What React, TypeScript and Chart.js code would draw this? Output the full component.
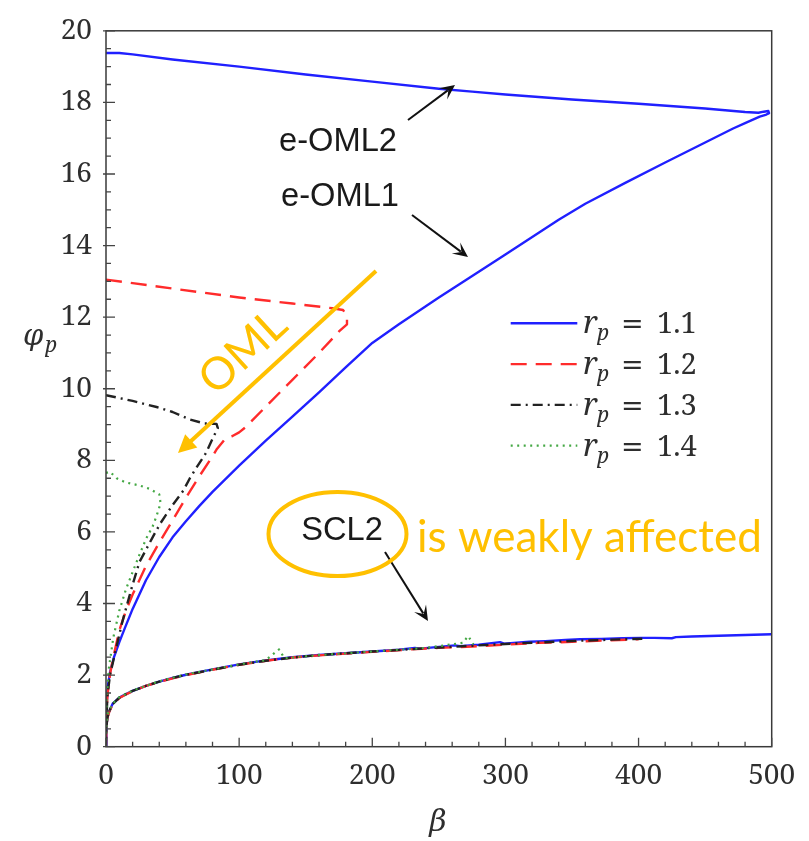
import React, { useEffect, useRef } from "react";
import { Chart, registerables } from "chart.js";

Chart.register(...registerables);

// ---------- axis ticks ----------
const xTickValues = [0, 100, 200, 300, 400, 500];
const yTickValues = [0, 2, 4, 6, 8, 10, 12, 14, 16, 18, 20];
const xMinorStep = 20;
const yMinorStep = 0.5;

// ---------- legend labels ----------
const seriesNames = ["1.1", "1.2", "1.3", "1.4"];

// ---------- r_p = 1.1 ----------
const rp11OmlBeta = [0, 10, 20, 50, 100, 150, 200, 250, 275, 300, 350, 400, 450, 480, 490, 494, 497.5, 498, 496, 491, 480, 471, 450, 420, 390, 360, 340, 300, 273, 250, 220, 200, 180, 160, 140, 120, 100, 80, 70, 60, 50, 40, 30, 20, 14, 10, 6, 3, 1.5, 0.5, 0];
const rp11OmlPhi = [19.38, 19.38, 19.34, 19.2, 19.0, 18.78, 18.58, 18.38, 18.3, 18.22, 18.08, 17.96, 17.83, 17.73, 17.71, 17.74, 17.76, 17.7, 17.66, 17.6, 17.42, 17.27, 16.88, 16.32, 15.75, 15.17, 14.72, 13.75, 13.1, 12.55, 11.8, 11.28, 10.6, 9.9, 9.22, 8.55, 7.85, 7.12, 6.72, 6.3, 5.85, 5.3, 4.65, 3.85, 3.3, 2.92, 2.5, 2.08, 1.72, 1.2, 0.4];
const rp11SclBeta = [0, 0.3, 1, 2.5, 5, 10, 15, 20, 30, 40, 50, 60, 80, 100, 120, 140, 160, 180, 200, 220, 232, 236, 250, 262, 266, 280, 296, 299, 318, 330, 345, 356, 372, 388, 402, 412, 425, 428, 440, 460, 480, 500];
const rp11SclPhi = [0, 0.55, 0.82, 1.0, 1.2, 1.37, 1.47, 1.56, 1.7, 1.82, 1.92, 2.01, 2.16, 2.3, 2.41, 2.5, 2.56, 2.61, 2.66, 2.71, 2.76, 2.74, 2.79, 2.83, 2.81, 2.85, 2.92, 2.88, 2.93, 2.95, 2.98, 3.0, 3.01, 3.03, 3.04, 3.04, 3.03, 3.06, 3.08, 3.1, 3.12, 3.14];

// ---------- r_p = 1.2 ----------
const rp12OmlBeta = [0, 20, 50, 100, 140, 170, 178, 181, 181, 175, 160, 140, 120, 105, 100, 95, 90, 83, 78, 70, 60, 50, 40, 30, 20, 15, 10, 5.5, 3, 1, 0];
const rp12OmlPhi = [13.05, 12.95, 12.8, 12.55, 12.38, 12.25, 12.2, 12.05, 11.8, 11.6, 11.0, 10.25, 9.5, 8.93, 8.78, 8.68, 8.62, 8.3, 8.0, 7.55, 6.95, 6.32, 5.7, 5.05, 4.25, 3.8, 3.25, 2.5, 2.02, 1.4, 0.3];
const rp12SclBeta = [0, 0.3, 1, 2.5, 5, 10, 15, 20, 30, 40, 50, 60, 80, 100, 120, 140, 160, 180, 200, 225, 250, 275, 300, 325, 350, 375, 400];
const rp12SclPhi = [0, 0.5, 0.8, 0.98, 1.18, 1.36, 1.46, 1.55, 1.7, 1.81, 1.91, 2.0, 2.15, 2.29, 2.4, 2.49, 2.55, 2.6, 2.65, 2.71, 2.76, 2.8, 2.85, 2.9, 2.93, 2.97, 3.0];

// ---------- r_p = 1.3 ----------
const rp13OmlBeta = [0, 20, 38, 50, 63, 74, 83, 84, 80, 75, 68, 63, 58, 50, 41, 35, 25, 19, 12, 7, 3, 1, 0];
const rp13OmlPhi = [9.82, 9.66, 9.49, 9.35, 9.14, 9.03, 9.02, 8.9, 8.6, 8.2, 7.8, 7.5, 7.15, 6.75, 6.25, 5.85, 5.15, 4.4, 3.45, 2.65, 2.0, 1.4, 0.3];
const rp13SclBeta = [0, 0.3, 1, 2.5, 5, 10, 15, 20, 30, 40, 50, 60, 80, 100, 120, 140, 160, 180, 200, 215, 240, 260, 285, 310, 330, 355, 380, 405];
const rp13SclPhi = [0, 0.52, 0.81, 1.0, 1.19, 1.37, 1.47, 1.56, 1.7, 1.82, 1.92, 2.01, 2.15, 2.29, 2.4, 2.49, 2.56, 2.61, 2.66, 2.69, 2.75, 2.79, 2.84, 2.89, 2.92, 2.96, 2.99, 3.02];

// ---------- r_p = 1.4 ----------
const rp14OmlBeta = [0, 3, 8, 15, 25, 33, 40, 41, 38, 35, 30, 25, 20, 15, 10, 5.5, 2, 0.5, 0];
const rp14OmlPhi = [7.65, 7.68, 7.5, 7.38, 7.3, 7.2, 7.05, 6.8, 6.45, 6.15, 5.8, 5.35, 4.88, 4.4, 3.8, 3.05, 2.15, 1.3, 0.3];
const rp14SclBeta = [0, 0.3, 1, 2.5, 5, 10, 20, 40, 60, 80, 100, 120, 126, 130, 134, 160, 200, 240, 268, 272, 276];
const rp14SclPhi = [0, 0.55, 0.85, 1.02, 1.2, 1.38, 1.57, 1.83, 2.02, 2.16, 2.3, 2.42, 2.6, 2.72, 2.47, 2.56, 2.66, 2.76, 2.9, 3.09, 2.86];

function path(ob: number[], op: number[], sb: number[], sp: number[]) {
  const pts: { x: number; y: number | null }[] = [];
  ob.forEach((b, i) => pts.push({ x: b, y: op[i] }));
  pts.push({ x: 0, y: null });
  sb.forEach((b, i) => pts.push({ x: b, y: sp[i] }));
  return pts;
}

const SERIF = "'Noto Serif', 'DejaVu Serif', serif";
const GREEK = "'DejaVu Serif', serif";
const SANS = "'Liberation Sans', Arial, sans-serif";
const CALIBRI = "Lato, 'Open Sans', sans-serif";
const ORANGE = "#FFC000";
const TEXT = "#2e2e2e";

function stealthHead(ctx: CanvasRenderingContext2D, x0: number, y0: number, x1: number, y1: number, len: number, half: number) {
  const a = Math.atan2(y1 - y0, x1 - x0);
  ctx.save();
  ctx.translate(x1, y1);
  ctx.rotate(a);
  ctx.beginPath();
  ctx.moveTo(0, 0);
  ctx.lineTo(-len, -half);
  ctx.lineTo(-len * 0.55, 0);
  ctx.lineTo(-len, half);
  ctx.closePath();
  ctx.fill();
  ctx.restore();
}

function blackArrow(ctx: CanvasRenderingContext2D, x0: number, y0: number, x1: number, y1: number) {
  const a = Math.atan2(y1 - y0, x1 - x0);
  const len = 15;
  ctx.save();
  ctx.strokeStyle = "#111";
  ctx.fillStyle = "#111";
  ctx.lineWidth = 2;
  ctx.beginPath();
  ctx.moveTo(x0, y0);
  ctx.lineTo(x1 - Math.cos(a) * len * 0.6, y1 - Math.sin(a) * len * 0.6);
  ctx.stroke();
  stealthHead(ctx, x0, y0, x1, y1, len, 7);
  ctx.restore();
}

function fitSize(ctx: CanvasRenderingContext2D, text: string, family: string, width: number) {
  ctx.font = `40px ${family}`;
  return (40 * width) / ctx.measureText(text).width;
}

function drawText(ctx: CanvasRenderingContext2D, text: string, family: string, size: number, x: number, y: number, color: string, align: CanvasTextAlign = "center") {
  ctx.font = `${size.toFixed(2)}px ${family}`;
  ctx.fillStyle = color;
  ctx.textAlign = align;
  ctx.textBaseline = "middle";
  ctx.fillText(text, x, y);
}

const overlay = {
  id: "overlay",
  afterDatasetsDraw(chart: any) {
    const { ctx, chartArea: ca, scales } = chart;
    const xs = scales.x;
    const ys = scales.y;
    ctx.save();

    // frame
    ctx.strokeStyle = "#3a3a3a";
    ctx.lineWidth = 1.5;
    ctx.strokeRect(ca.left, ca.top, ca.right - ca.left, ca.bottom - ca.top);

    // inner ticks
    ctx.strokeStyle = "#444";
    ctx.lineWidth = 1.3;
    ctx.beginPath();
    for (let v = xs.min; v <= xs.max + 1e-9; v += xMinorStep) {
      const px = xs.getPixelForValue(v);
      const major = xTickValues.includes(v);
      ctx.moveTo(px, ca.bottom);
      ctx.lineTo(px, ca.bottom - (major ? 9 : 5));
    }
    for (let v = ys.min; v <= ys.max + 1e-9; v += yMinorStep) {
      const py = ys.getPixelForValue(v);
      const major = yTickValues.includes(v);
      ctx.moveTo(ca.left - (major ? 3 : 0), py);
      ctx.lineTo(ca.left + (major ? 9 : 5), py);
    }
    ctx.stroke();

    // axis titles
    ctx.fillStyle = TEXT;
    ctx.textBaseline = "alphabetic";
    ctx.textAlign = "center";
    ctx.font = `italic 30px ${GREEK}`;
    ctx.fillText("β", 438, 831);
    ctx.textAlign = "left";
    ctx.font = `italic 29px ${GREEK}`;
    ctx.fillText("φ", 23, 345);
    ctx.font = `italic 21px ${SERIF}`;
    ctx.fillText("p", 45, 352);

    // legend
    const datasets = chart.data.datasets;
    datasets.forEach((ds: any, i: number) => {
      const cy = 323.3 + i * 40.8;
      ctx.save();
      ctx.strokeStyle = ds.borderColor;
      ctx.lineWidth = ds.borderWidth;
      ctx.setLineDash(ds.borderDash || []);
      ctx.beginPath();
      ctx.moveTo(510.7, cy);
      ctx.lineTo(577.3, cy);
      ctx.stroke();
      ctx.restore();
      ctx.fillStyle = TEXT;
      ctx.textAlign = "left";
      ctx.textBaseline = "alphabetic";
      ctx.font = `italic 31px ${SERIF}`;
      ctx.fillText("r", 583, cy + 10);
      ctx.font = `italic 21px ${SERIF}`;
      ctx.fillText("p", 597, cy + 17);
      ctx.font = `27px 'DejaVu Serif', serif`;
      ctx.fillText("=", 621, cy + 10);
      ctx.font = `29px ${SERIF}`;
      ctx.fillText(seriesNames[i], 657, cy + 10);
    });

    // black annotations
    const sansSize = fitSize(ctx, "e-OML2", SANS, 118);
    drawText(ctx, "e-OML2", SANS, sansSize, 338, 142, "#1a1a1a");
    drawText(ctx, "e-OML1", SANS, sansSize, 340, 197, "#1a1a1a");
    drawText(ctx, "SCL2", SANS, sansSize, 342, 531, "#1a1a1a");
    blackArrow(ctx, 408, 120, 455, 85);
    blackArrow(ctx, 412, 215, 468, 257);
    blackArrow(ctx, 385, 552, 428, 621);

    // orange annotations
    ctx.strokeStyle = ORANGE;
    ctx.lineWidth = 4;
    ctx.beginPath();
    ctx.ellipse(337.5, 534, 69, 42, 0, 0, Math.PI * 2);
    ctx.stroke();
    const orangeSize = fitSize(ctx, "is weakly affected", CALIBRI, 345);
    drawText(ctx, "is weakly affected", CALIBRI, orangeSize, 417, 538, ORANGE, "left");

    // OML arrow
    const tx = 376, ty = 271, hx = 178, hy = 453;
    const a = Math.atan2(hy - ty, hx - tx);
    ctx.beginPath();
    ctx.moveTo(tx, ty);
    ctx.lineTo(hx - Math.cos(a) * 14, hy - Math.sin(a) * 14);
    ctx.stroke();
    ctx.fillStyle = ORANGE;
    ctx.save();
    ctx.translate(hx, hy);
    ctx.rotate(a);
    ctx.beginPath();
    ctx.moveTo(0, 0);
    ctx.lineTo(-18, -9);
    ctx.lineTo(-18, 9);
    ctx.closePath();
    ctx.fill();
    ctx.restore();

    ctx.save();
    ctx.translate(243, 352);
    ctx.rotate(Math.atan2(ty - hy, tx - hx));
    drawText(ctx, "OML", CALIBRI, orangeSize * 1.02, 0, 0, ORANGE);
    ctx.restore();

    ctx.restore();
  },
};

export default function App() {
  const ref = useRef<HTMLCanvasElement>(null);
  useEffect(() => {
    const common = { pointRadius: 0, tension: 0, fill: false, spanGaps: false, borderJoinStyle: "round" as const };
    const chart = new Chart(ref.current!, {
      type: "line",
      data: {
        datasets: [
          { label: "r_p = 1.1", data: path(rp11OmlBeta, rp11OmlPhi, rp11SclBeta, rp11SclPhi), borderColor: "#2020ff", borderWidth: 2.4, borderDash: [], order: 4, ...common },
          { label: "r_p = 1.2", data: path(rp12OmlBeta, rp12OmlPhi, rp12SclBeta, rp12SclPhi), borderColor: "#ff2b2b", borderWidth: 2.4, borderDash: [16, 9], order: 3, ...common },
          { label: "r_p = 1.3", data: path(rp13OmlBeta, rp13OmlPhi, rp13SclBeta, rp13SclPhi), borderColor: "#222222", borderWidth: 2.4, borderDash: [10, 5, 2, 5], order: 2, ...common },
          { label: "r_p = 1.4", data: path(rp14OmlBeta, rp14OmlPhi, rp14SclBeta, rp14SclPhi), borderColor: "#45a845", borderWidth: 2.2, borderDash: [2, 4.5], order: 1, ...common },
        ] as any,
      },
      options: {
        responsive: false,
        devicePixelRatio: 1,
        animation: false,
        layout: { padding: { left: 0, right: 37.3, top: 22.7, bottom: 0 } },
        plugins: { legend: { display: false }, tooltip: { enabled: false } },
        scales: {
          x: {
            type: "linear",
            min: 0,
            max: 500,
            afterFit: (s: any) => { s.height = 94.3; },
            afterBuildTicks: (s: any) => { s.ticks = xTickValues.map((v) => ({ value: v })); },
            grid: { display: false, drawTicks: false },
            border: { display: false },
            ticks: { padding: 13, color: TEXT, font: { family: SERIF, size: 28 }, maxRotation: 0 },
          },
          y: {
            type: "linear",
            min: 0,
            max: 20,
            afterFit: (s: any) => { s.width = 106; },
            afterBuildTicks: (s: any) => { s.ticks = yTickValues.map((v) => ({ value: v })); },
            grid: { display: false, drawTicks: false },
            border: { display: false },
            ticks: { padding: 14, color: TEXT, font: { family: SERIF, size: 28 } },
          },
        },
      },
      plugins: [overlay],
    });
    return () => chart.destroy();
  }, []);
  return (
    <div style={{ position: "absolute", left: 0, top: 0, width: 809, height: 841, background: "#fff" }}>
      <canvas ref={ref} width={809} height={841} style={{ display: "block", width: 809, height: 841 }} />
    </div>
  );
}
